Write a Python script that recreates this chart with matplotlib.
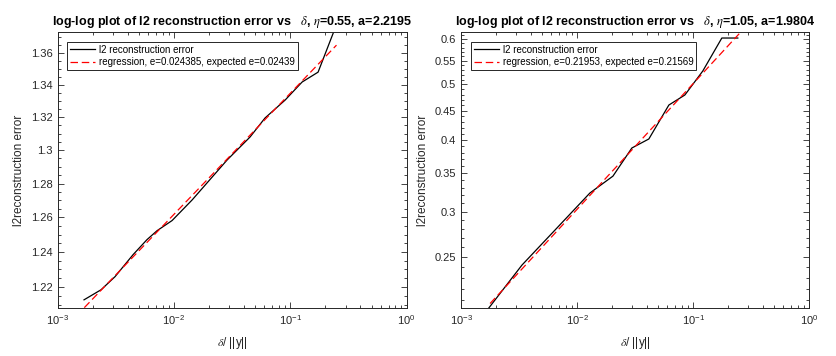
import numpy as np
import matplotlib
matplotlib.use("Agg")
import matplotlib.pyplot as plt
from matplotlib.ticker import FixedLocator, FuncFormatter, NullFormatter, LogLocator

plt.rcParams['font.family'] = ['Liberation Sans', 'DejaVu Sans']
plt.rcParams['mathtext.fontset'] = 'stix'

# --- left panel: eta = 0.55
x_left = [0.00169, 0.00237, 0.00312, 0.00446, 0.00588, 0.00718, 0.00966, 0.01436,
          0.0287, 0.0452, 0.0608, 0.0904, 0.1265, 0.1737, 0.243]
err_left = [1.2127, 1.2184, 1.2258, 1.2384, 1.2471, 1.2523, 1.2582, 1.2703,
            1.2941, 1.3080, 1.3196, 1.3306, 1.3418, 1.3480, 1.3757]
reg_x_left = [0.0017, 0.25]
reg_y_left = [1.2083, 1.3650]

# --- right panel: eta = 1.05
x_right = [0.0017, 0.00335, 0.00671, 0.01291, 0.0204, 0.0297, 0.0416, 0.0619,
           0.0850, 0.1214, 0.1771, 0.2432]
err_right = [0.2025, 0.2419, 0.2808, 0.3232, 0.3459, 0.3873, 0.4016, 0.4603,
             0.4792, 0.5278, 0.6025, 0.6025]
reg_x_right = [0.00178, 0.25]
reg_y_right = [0.2073, 0.613]

titles = [r'log-log plot of l2 reconstruction error vs   $\delta$, $\eta$=0.55, a=2.2195',
          r'log-log plot of l2 reconstruction error vs   $\delta$, $\eta$=1.05, a=1.9804']
reg_labels = ['regression, e=0.024385, expected e=0.02439',
              'regression, e=0.21953, expected e=0.21569']
ylims = [(1.2081, 1.3733), (0.2036, 0.617)]
yticks = [[1.22, 1.24, 1.26, 1.28, 1.30, 1.32, 1.34, 1.36],
          [0.25, 0.30, 0.35, 0.40, 0.45, 0.50, 0.55, 0.60]]
yminor = [np.arange(1.21, 1.3751, 0.005), np.arange(0.21, 0.6151, 0.01)]

fig = plt.figure(figsize=(8.37, 3.56), dpi=100)
ax1 = fig.add_axes([0.0687, 0.1348, 0.417, 0.775])
ax2 = fig.add_axes([0.5508, 0.1348, 0.4158, 0.775])

data = [(x_left, err_left, reg_x_left, reg_y_left), (x_right, err_right, reg_x_right, reg_y_right)]
txt = '#262626'

for i, ax in enumerate([ax1, ax2]):
    xs, ys, rx, ry = data[i]
    ax.plot(xs, ys, color='black', lw=0.9, label='l2 reconstruction error')
    ax.plot(rx, ry, color='red', lw=0.9, dashes=(6, 3), label=reg_labels[i])
    ax.set_xscale('log')
    ax.set_yscale('log')
    ax.set_xlim(1e-3, 1)
    ax.set_ylim(*ylims[i])
    ax.xaxis.set_major_locator(LogLocator(base=10, numticks=10))
    ax.xaxis.set_minor_locator(LogLocator(base=10, subs=np.arange(2, 10), numticks=10))
    ax.xaxis.set_minor_formatter(NullFormatter())
    ax.yaxis.set_major_locator(FixedLocator(yticks[i]))
    ax.yaxis.set_major_formatter(FuncFormatter(lambda v, p: f'{v:g}'))
    ax.yaxis.set_minor_locator(FixedLocator(yminor[i]))
    ax.yaxis.set_minor_formatter(NullFormatter())
    ax.tick_params(which='both', direction='in', top=True, right=True,
                   labelsize=8, labelcolor=txt, width=0.6, color='#262626')
    ax.tick_params(which='major', length=4)
    ax.tick_params(which='minor', length=2)
    for s in ax.spines.values():
        s.set_linewidth(0.7)
        s.set_color('#262626')
    ax.set_title(titles[i], fontsize=9, fontweight='bold', pad=5)
    ax.set_xlabel(r'$\delta$/ ||y||', fontsize=8.5, color=txt, labelpad=6)
    ax.set_ylabel('l2reconstruction error', fontsize=8.5, color=txt, labelpad=4)
    leg = ax.legend(loc='upper left', fontsize=7, frameon=True, fancybox=False,
                    edgecolor='#262626', framealpha=1, borderaxespad=1.0,
                    handlelength=2.6, handletextpad=0.4, borderpad=0.3,
                    labelspacing=0.25)
    leg.get_frame().set_linewidth(0.7)

fig.savefig('out.png', dpi=100)
